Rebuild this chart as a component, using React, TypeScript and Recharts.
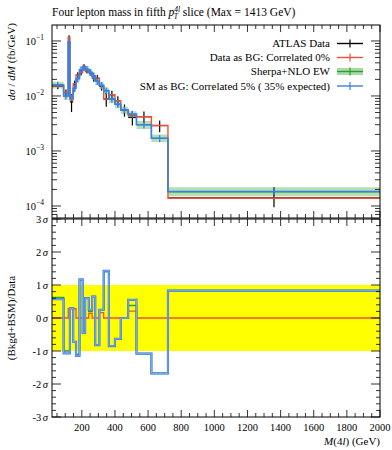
import React from "react";
import { ComposedChart, Line, Area, Scatter, ErrorBar, XAxis, YAxis } from "recharts";

// ---------- data ----------
const binEdges = [20, 90, 118, 128, 148, 165, 186, 205, 220, 242, 262, 281, 306, 332, 363, 400, 435, 480, 530, 620, 720, 2000];

const atlasData = [0.0150, 0.0115, 0.115, 0.0078, 0.0160, 0.0240, 0.0265, 0.0345, 0.0285, 0.0262, 0.0212, 0.0210, 0.0150, 0.0088, 0.0105, 0.0082, 0.0056, 0.0041, 0.0042, 0.0029, 0.000140];
const atlasErrUp = [0.0017, 0.0016, 0.012, 0.0030, 0.0030, 0.0030, 0.0030, 0.0030, 0.0030, 0.0030, 0.0028, 0.0030, 0.0025, 0.0026, 0.0020, 0.0017, 0.0014, 0.0012, 0.0010, 0.0007, 0.00008];
const atlasErrDown = [0.0017, 0.0016, 0.012, 0.0027, 0.0030, 0.0030, 0.0030, 0.0030, 0.0030, 0.0030, 0.0028, 0.0030, 0.0025, 0.0024, 0.0020, 0.0017, 0.0014, 0.0012, 0.0010, 0.0007, 0.000045];

const dataAsBG = [0.0151, 0.0116, 0.117, 0.0085, 0.0167, 0.0241, 0.0266, 0.0346, 0.0286, 0.0266, 0.0213, 0.0211, 0.0154, 0.0088, 0.0105, 0.0082, 0.0056, 0.0044, 0.0042, 0.0029, 0.000138];
const smAsBG = [0.0160, 0.0100, 0.097, 0.0093, 0.0138, 0.0206, 0.0300, 0.0332, 0.0305, 0.0270, 0.0232, 0.0185, 0.0156, 0.0125, 0.0088, 0.0071, 0.0056, 0.0047, 0.0030, 0.0017, 0.000184];
const smAsBGErr = [0.0022, 0.0014, 0.014, 0.0013, 0.0020, 0.0030, 0.0043, 0.0048, 0.0044, 0.0039, 0.0034, 0.0027, 0.0023, 0.0018, 0.0013, 0.0010, 0.0008, 0.0007, 0.00045, 0.00026, 0.000028];
const sherpa = [0.0158, 0.0099, 0.095, 0.0090, 0.0138, 0.0206, 0.0297, 0.0330, 0.0303, 0.0268, 0.0230, 0.0184, 0.0155, 0.0124, 0.0087, 0.0070, 0.0055, 0.0046, 0.0030, 0.0017, 0.000181];
const sherpaLo = [0.0136, 0.0085, 0.082, 0.0077, 0.0118, 0.0178, 0.0256, 0.0285, 0.0262, 0.0231, 0.0198, 0.0158, 0.0133, 0.0106, 0.0074, 0.0060, 0.0047, 0.0039, 0.0025, 0.00145, 0.000150];
const sherpaHi = [0.0182, 0.0114, 0.110, 0.0104, 0.0160, 0.0238, 0.0343, 0.0381, 0.0350, 0.0309, 0.0266, 0.0213, 0.0179, 0.0143, 0.0101, 0.0081, 0.0064, 0.0053, 0.0035, 0.0020, 0.000218];

// ratio panel (significance, sigma units)
const sigDataAsBG = [0, 0, 0.28, 0.28, 0.28, 0, 0, 0, 0, 0.14, 0, 0, 0.16, 0, 0, 0, 0, 0.21, 0, 0, 0];
const sigSmAsBG = [0.57, -1.07, -1.07, 0.3, -0.72, -1.15, 1.17, -0.45, 0.6, 0.25, 0.65, -0.82, 0.25, 1.43, -0.85, -0.63, 0.0, 0.55, -1.08, -1.68, 0.83];
const sigSherpa = [0.62, -1.0, -1.0, 0.3, -0.72, -1.1, 1.15, -0.45, 0.6, 0.2, 0.65, -0.82, 0.25, 1.4, -0.85, -0.63, 0.0, 0.38, -1.08, -1.68, 0.83];
const sigBand = [-1, 1];

// ticks
const xMajorTicks = [200, 400, 600, 800, 1000, 1200, 1400, 1600, 1800, 2000];
const xAllTicks = Array.from({ length: 40 }, (_, i) => 50 * (i + 1));
const yDecades = [1e-4, 1e-3, 1e-2, 1e-1];
const yDecadeLabels = ["−4", "−3", "−2", "−1"];
const yLogTicks = [7e-5, 8e-5, 9e-5].concat(
  ...[1e-4, 1e-3, 1e-2].map((d) => [1, 2, 3, 4, 5, 6, 7, 8, 9].map((m) => m * d)),
  [0.1]
);
const sigmaMajor = [-3, -2, -1, 0, 1, 2, 3];
const sigmaLabels = ["-3", "-2", "-1", "0", "1", "2", "3"];
const sigmaTicks = Array.from({ length: 31 }, (_, i) => Math.round((-3 + i * 0.2) * 10) / 10);

// ---------- layout ----------
const W = 392, H = 450;
const PL = 52, PR = 380, TT = 25, TB = 218, BT = 219, BB = 417;
const FONT = "'Liberation Serif', 'DejaVu Serif', serif";
const RED = "#ee5236";
const BLUE = "#3d7fe6";
const GREEN = "#2f9e2f";
const BAND = "#a6dba6";

const nBins = atlasData.length;
const stepRows = binEdges.map((x, i) => {
  const j = Math.min(i, nBins - 1);
  return { x, dataBG: dataAsBG[j], smBG: smAsBG[j], sherpa: sherpa[j], band: [sherpaLo[j], sherpaHi[j]] };
});
const ratioRows = binEdges.map((x, i) => {
  const j = Math.min(i, nBins - 1);
  return { x, dataBG: sigDataAsBG[j], smBG: sigSmAsBG[j], sherpa: sigSherpa[j], yellow: sigBand };
});
const centers = atlasData.map((_, i) => (binEdges[i] + binEdges[i + 1]) / 2);
const dataPoints = atlasData.map((y, i) => ({
  x: centers[i],
  y,
  ey: [atlasErrDown[i], atlasErrUp[i]],
  ex: (binEdges[i + 1] - binEdges[i]) / 2,
}));
const smPoints = smAsBG.map((y, i) => ({ x: centers[i], y, ey: smAsBGErr[i] }));

const isMajorX = (v: number) => xMajorTicks.includes(v);

function TopXTick(props: any) {
  const { x, payload } = props;
  const len = isMajorX(payload.value) ? 7 : 4;
  return (
    <g>
      <line x1={x} x2={x} y1={TB} y2={TB - len} stroke="#000" strokeWidth={0.8} />
      <line x1={x} x2={x} y1={TT} y2={TT + len} stroke="#000" strokeWidth={0.8} />
    </g>
  );
}

function BottomXTick(props: any) {
  const { x, payload } = props;
  const major = isMajorX(payload.value);
  const len = major ? 7 : 4;
  return (
    <g>
      <line x1={x} x2={x} y1={BB} y2={BB - len} stroke="#000" strokeWidth={0.8} />
      <line x1={x} x2={x} y1={BT} y2={BT + len} stroke="#000" strokeWidth={0.8} />
      {major && (
        <text x={x} y={BB + 14} textAnchor="middle" fontFamily={FONT} fontSize={10.5} fill="#000">
          {payload.value}
        </text>
      )}
    </g>
  );
}

function TopYTick(props: any) {
  const { y, payload } = props;
  const v = payload.value;
  const di = yDecades.findIndex((d) => Math.abs(v / d - 1) < 1e-6);
  const major = di >= 0;
  const len = major ? 9 : 5;
  return (
    <g>
      <line x1={PL} x2={PL + len} y1={y} y2={y} stroke="#000" strokeWidth={0.8} />
      <line x1={PR} x2={PR - len} y1={y} y2={y} stroke="#000" strokeWidth={0.8} />
      {major && (
        <text x={PL - 8} y={y + 4} textAnchor="end" fontFamily={FONT} fontSize={10.5} fill="#000">
          10
          <tspan dy={-5} fontSize={7.5}>{yDecadeLabels[di]}</tspan>
        </text>
      )}
    </g>
  );
}

function BottomYTick(props: any) {
  const { y, payload } = props;
  const v = payload.value;
  const mi = sigmaMajor.indexOf(v);
  const major = mi >= 0;
  const len = major ? 9 : 4;
  return (
    <g>
      <line x1={PL} x2={PL + len} y1={y} y2={y} stroke="#000" strokeWidth={0.8} />
      <line x1={PR} x2={PR - len} y1={y} y2={y} stroke="#000" strokeWidth={0.8} />
      {major && (
        <text x={PL - 4} y={y + 4} textAnchor="end" fontFamily={FONT} fontSize={10.5} fill="#000">
          {sigmaLabels[mi]}
          <tspan dx={1.5} fontStyle="italic">σ</tspan>
        </text>
      )}
    </g>
  );
}

const noShape = () => <g />;

function LegendRow({ cy, label, color, band }: { cy: number; label: string; color: string; band?: boolean }) {
  return (
    <g>
      <text x={330} y={cy + 3.8} textAnchor="end" fontFamily={FONT} fontSize={11} fill="#000">
        {label}
      </text>
      {band && <rect x={337} y={cy - 3.5} width={26} height={7} fill={BAND} />}
      <line x1={337} x2={363} y1={cy} y2={cy} stroke={color} strokeWidth={1.4} />
      <line x1={350} x2={350} y1={cy - 4} y2={cy + 4} stroke={color} strokeWidth={1.2} />
    </g>
  );
}

export default function App() {
  return (
    <div style={{ position: "absolute", left: 0, top: 0, width: W, height: H, background: "#fff" }}>
      {/* top panel */}
      <div style={{ position: "absolute", left: 0, top: 0 }}>
        <ComposedChart width={W} height={230} data={stepRows} margin={{ top: TT, right: W - PR, bottom: 230 - TB - 10, left: PL - 10 }}>
          <XAxis dataKey="x" type="number" domain={[20, 2000]} allowDataOverflow ticks={xAllTicks} interval={0}
            height={10} tickSize={2} tickMargin={2} tickLine={false} axisLine={false} tick={<TopXTick />} />
          <YAxis type="number" scale="log" domain={[6.05e-5, 0.195]} allowDataOverflow ticks={yLogTicks} interval={0}
            width={10} tickSize={2} tickMargin={2} tickLine={false} axisLine={false} tick={<TopYTick />} />
          <Area dataKey="band" type="stepAfter" fill={BAND} fillOpacity={0.85} stroke="none" isAnimationActive={false} />
          <Line dataKey="sherpa" type="stepAfter" stroke={GREEN} strokeWidth={1.2} dot={false} activeDot={false} isAnimationActive={false} />
          <Scatter data={dataPoints} dataKey="y" shape={noShape} isAnimationActive={false}>
            <ErrorBar dataKey="ey" direction="y" width={0} stroke="#000" strokeWidth={1.2} isAnimationActive={false} />
            <ErrorBar dataKey="ex" direction="x" width={0} stroke="#000" strokeWidth={1.2} isAnimationActive={false} />
          </Scatter>
          <Line dataKey="dataBG" type="stepAfter" stroke={RED} strokeWidth={1.4} dot={false} activeDot={false} isAnimationActive={false} />
          <Line dataKey="smBG" type="stepAfter" stroke={BLUE} strokeWidth={1.6} dot={false} activeDot={false} isAnimationActive={false} />
          <Scatter data={smPoints} dataKey="y" shape={noShape} isAnimationActive={false}>
            <ErrorBar dataKey="ey" direction="y" width={0} stroke={BLUE} strokeWidth={1.3} isAnimationActive={false} />
          </Scatter>
        </ComposedChart>
      </div>

      {/* ratio panel */}
      <div style={{ position: "absolute", left: 0, top: 0 }}>
        <ComposedChart width={W} height={H} data={ratioRows} margin={{ top: BT, right: W - PR, bottom: H - BB - 10, left: PL - 10 }}>
          <XAxis dataKey="x" type="number" domain={[20, 2000]} allowDataOverflow ticks={xAllTicks} interval={0}
            height={10} tickSize={2} tickMargin={2} tickLine={false} axisLine={false} tick={<BottomXTick />} />
          <YAxis type="number" domain={[-3, 3]} allowDataOverflow ticks={sigmaTicks} interval={0}
            width={10} tickSize={2} tickMargin={2} tickLine={false} axisLine={false} tick={<BottomYTick />} />
          <Area dataKey="yellow" type="linear" fill="#ffff00" fillOpacity={1} stroke="none" isAnimationActive={false} />
          <Line dataKey="sherpa" type="stepAfter" stroke={GREEN} strokeWidth={1.6} dot={false} activeDot={false} isAnimationActive={false} />
          <Line dataKey="dataBG" type="stepAfter" stroke={RED} strokeWidth={1.3} dot={false} activeDot={false} isAnimationActive={false} />
          <Line dataKey="smBG" type="stepAfter" stroke={BLUE} strokeWidth={2.2} dot={false} activeDot={false} isAnimationActive={false} />
          <Line dataKey="smBG" type="stepAfter" stroke="#a9c6f7" strokeWidth={0.6} dot={false} activeDot={false} isAnimationActive={false} />
        </ComposedChart>
      </div>

      {/* frames, titles, legend */}
      <svg width={W} height={H} style={{ position: "absolute", left: 0, top: 0, pointerEvents: "none" }}>
        <rect x={PL} y={TT} width={PR - PL} height={TB - TT} fill="none" stroke="#000" strokeWidth={1} />
        <rect x={PL} y={BT} width={PR - PL} height={BB - BT} fill="none" stroke="#000" strokeWidth={1} />
        <text x={PL} y={16} fontFamily={FONT} fontSize={11.5} fill="#000">
          Four lepton mass in fifth <tspan fontStyle="italic">p</tspan>
          <tspan dy={-4.5} fontSize={7.5} fontStyle="italic">4l</tspan>
          <tspan dx={-6.5} dy={7.5} fontSize={7.5} fontStyle="italic">T</tspan>
          <tspan dx={5} dy={-3}>slice (Max = 1413 GeV)</tspan>
        </text>
        <text transform={`translate(15, 23) rotate(-90)`} textAnchor="end" fontFamily={FONT} fontSize={11} fill="#000">
          <tspan fontStyle="italic">d</tspan><tspan fontStyle="italic">σ</tspan> / <tspan fontStyle="italic">dM</tspan> (fb/GeV)
        </text>
        <text transform={`translate(15, 318) rotate(-90)`} textAnchor="middle" fontFamily={FONT} fontSize={11} fill="#000">
          (Bkgd+BSM)/Data
        </text>
        <text x={PR} y={445} textAnchor="end" fontFamily={FONT} fontSize={11} fill="#000">
          <tspan fontStyle="italic">M</tspan>(4<tspan fontStyle="italic">l</tspan>) (GeV)
        </text>
        <LegendRow cy={43.5} label="ATLAS Data" color="#000" />
        <LegendRow cy={57.5} label="Data as BG: Correlated 0%" color={RED} />
        <LegendRow cy={71.5} label="Sherpa+NLO EW" color={GREEN} band />
        <LegendRow cy={86} label="SM as BG: Correlated 5% ( 35% expected)" color={BLUE} />
      </svg>
    </div>
  );
}
